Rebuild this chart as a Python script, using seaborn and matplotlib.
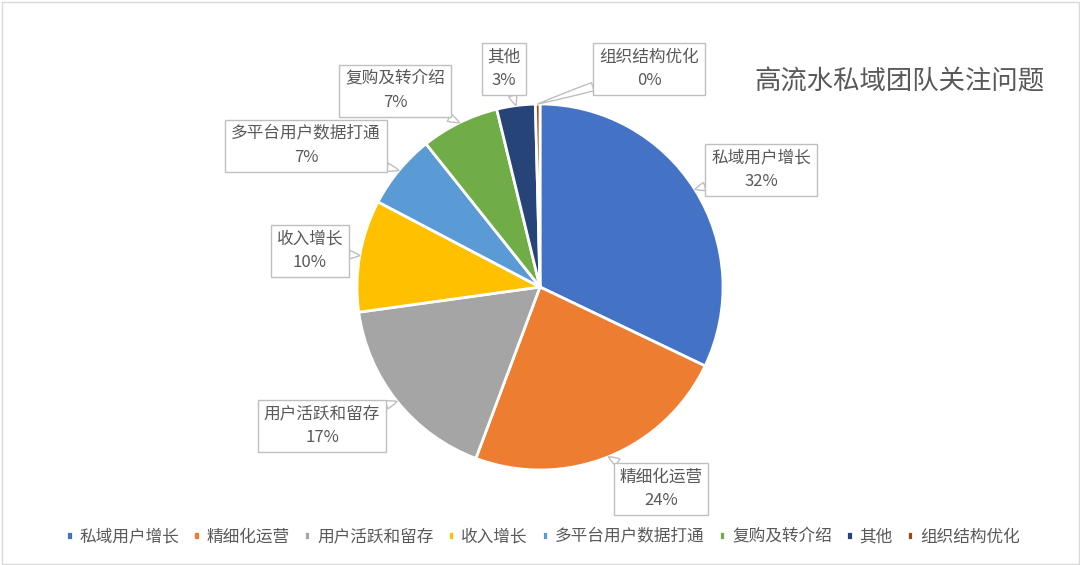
import numpy as np
import matplotlib
matplotlib.use("Agg")
import matplotlib.pyplot as plt
import seaborn as sns
from matplotlib.patches import Rectangle

# data
categories = ['私域用户增长', '精细化运营', '用户活跃和留存', '收入增长',
              '多平台用户数据打通', '复购及转介绍', '其他', '组织结构优化']
shares = [32.1, 23.6, 17.1, 9.9, 6.6, 6.9, 3.4, 0.4]
pct_labels = ['32%', '24%', '17%', '10%', '7%', '7%', '3%', '0%']
title = '高流水私域团队关注问题'

# label box centres in pixel coords (from top-left)
box_pos = [(761, 170), (661, 489), (322, 426), (310, 251),
           (306, 146), (395, 91), (504, 69), (649, 69)]

colors = ['#4472C4', '#ED7D31', '#A5A5A5', '#FFC000',
          '#5B9BD5', '#70AD47', '#264478', '#9E480E']

sns.set_theme(style='white')
plt.rcParams['font.family'] = ['Noto Sans CJK SC', 'DejaVu Sans']
text_color = '#595959'

W, H = 1080, 565
fig = plt.figure(figsize=(W / 100, H / 100), dpi=100)
ax = fig.add_axes([0, 0, 1, 1])

center = (540, H - 287)
radius = 183
wedges, _ = ax.pie(shares, colors=sns.color_palette(colors), startangle=90,
                   counterclock=False, center=center, radius=radius,
                   wedgeprops=dict(edgecolor='white', linewidth=2))

ax.set_xlim(0, W)
ax.set_ylim(0, H)
ax.set_aspect('equal')
ax.axis('off')

# callout labels
for w, cat, pct, (bx, by) in zip(wedges, categories, pct_labels, box_pos):
    mid = np.deg2rad((w.theta1 + w.theta2) / 2)
    px = center[0] + radius * np.cos(mid)
    py = center[1] + radius * np.sin(mid)
    ax.annotate(f'{cat}\n{pct}', xy=(px, py), xytext=(bx, H - by),
                ha='center', va='center', fontsize=12, color=text_color,
                linespacing=1.5,
                bbox=dict(boxstyle='square,pad=0.35', fc='white', ec='#BFBFBF', lw=1),
                arrowprops=dict(arrowstyle='wedge,tail_width=0.5,shrink_factor=0.6',
                                fc='white', ec='#BFBFBF', lw=1, shrinkA=0, shrinkB=0))

fig.text(1045 / W, 1 - 82 / H, title, ha='right', va='center',
         fontsize=19, color=text_color)

leg = fig.legend(wedges, categories, loc='center', ncol=len(categories),
                 bbox_to_anchor=(0.5 + 3 / W, 1 - 537 / H), frameon=False,
                 fontsize=12, handlelength=0.38, handleheight=0.38,
                 handletextpad=0.4, columnspacing=0.87)
for t in leg.get_texts():
    t.set_color(text_color)

fig.patches.append(Rectangle((1.5 / W, 1.5 / H), 1 - 3 / W, 1 - 3 / H,
                             transform=fig.transFigure, fill=False,
                             ec='#D9D9D9', lw=1))

fig.savefig('out.png', dpi=100)
